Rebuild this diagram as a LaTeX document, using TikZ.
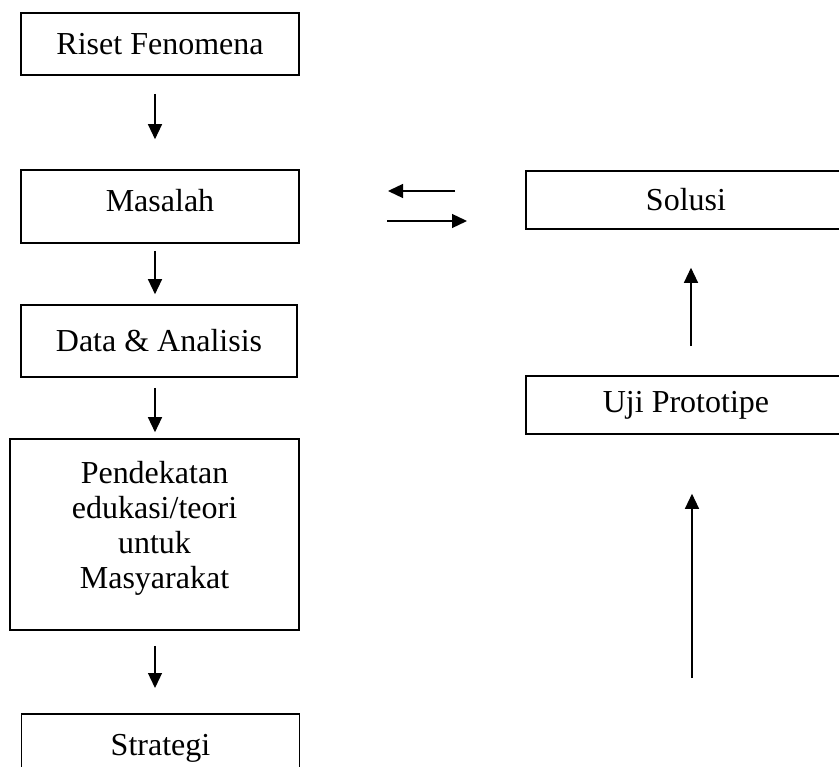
\documentclass[tikz,border=0pt]{standalone}
\usepackage{fontspec}
\setmainfont{Liberation Serif}
\usetikzlibrary{arrows.meta}
\begin{document}
\begin{tikzpicture}[x=1pt,y=-1pt,
  box/.style={draw=black, line width=1.6pt, inner sep=0pt, align=center,
    font=\fontsize{32}{35}\selectfont},
  arr/.style={line width=1.3pt, -{Triangle[length=15pt,width=14pt]}}]
\useasboundingbox (0,0) rectangle (839,767);
\clip (0,0) rectangle (839,767);
% left column
\node[box, minimum width=278pt, minimum height=62pt] (riset) at (160,44) {Riset Fenomena};
\node[box, minimum width=278pt, minimum height=73pt, text depth=12pt] (masalah) at (160,206.5) {Masalah};
\node[box, minimum width=276pt, minimum height=72pt] (data) at (159,341) {Data \& Analisis};
\node[box, minimum width=289pt, minimum height=191pt, text depth=19pt] (pend) at (154.5,534.5)
  {Pendekatan\\edukasi/teori\\untuk\hspace*{8pt}\\Masyarakat};
\node[box, minimum width=278pt, minimum height=80pt, text depth=17pt, anchor=north] (strat) at (160.5,713) {Strategi};
% right column
\node[box, minimum width=320pt, minimum height=58pt] (solusi) at (686,200) {Solusi};
\node[box, minimum width=320pt, minimum height=58pt] (uji) at (686,405) {Uji Prototipe};
% vertical arrows
\draw[arr] ([xshift=-5pt,yshift=-18pt]riset.south) -- ([xshift=-5pt,yshift=30pt]masalah.north);
\draw[arr] ([xshift=-5pt,yshift=-7pt]masalah.south) -- ([xshift=-4pt,yshift=10pt]data.north);
\draw[arr] ([xshift=-4pt,yshift=-10pt]data.south) -- ([xshift=0.5pt,yshift=6pt]pend.north);
\draw[arr] ([xshift=0.5pt,yshift=-15pt]pend.south) -- ([xshift=-5.5pt,yshift=25pt]strat.north);
\draw[arr] ([xshift=5pt,yshift=29pt]uji.north) -- ([xshift=5pt,yshift=-38pt]solusi.south);
\coordinate (src) at (692,678);
\draw[arr] (src) -- ([xshift=6pt,yshift=-59pt]uji.south);
% horizontal arrows
\coordinate (la) at (455,191);
\coordinate (lb) at (388,191);
\coordinate (ra) at (387,221);
\coordinate (rb) at (467,221);
\draw[arr] (la) -- (lb);
\draw[arr] (ra) -- (rb);
\end{tikzpicture}
\end{document}
